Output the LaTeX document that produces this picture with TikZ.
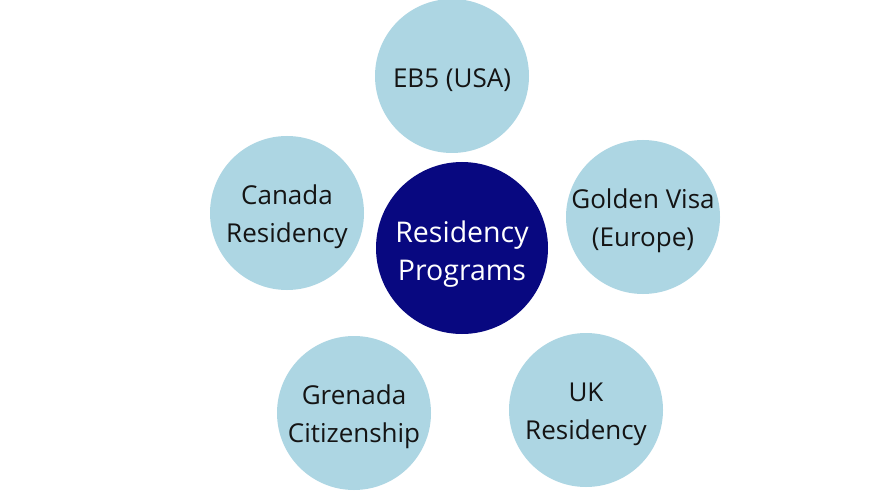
\documentclass[tikz,border=0pt]{standalone}
\usepackage{fontspec}
\setmainfont{Open Sans}
\begin{document}
\begin{tikzpicture}[x=1pt, y=-1pt]
    \definecolor{mybubble}{RGB}{173,214,227}
    \definecolor{myhub}{RGB}{8,8,128}
    \definecolor{mytext}{RGB}{20,20,20}
    \tikzset{
        bubble/.style={circle, fill=mybubble, minimum size=154pt, inner sep=0pt},
        hub/.style={bubble, fill=myhub, minimum size=172pt},
        caption/.style={align=center, inner sep=0pt, text=mytext, yshift=-4pt,
            font=\fontsize{26}{38}\selectfont},
        hubcaption/.style={caption, text=white, yshift=-2pt,
            font=\fontsize{28.5}{38}\selectfont}
    }
    
    \useasboundingbox (0,0) rectangle (889,500);
    \fill[white] (0,0) rectangle (889,500);
    
    \node[hub] (hub) at (462,248) {};
    \node[hubcaption] (hubtext) at (hub.center) {Residency\\Programs};
    
    \node[bubble] (eb5) at (452,76) {};
    \node[caption] (eb5text) at (eb5.center) {EB5 (USA)};
    \node[bubble] (golden) at (643,217) {};
    \node[caption] (goldentext) at (golden.center) {Golden Visa\\(Europe)};
    \node[bubble] (uk) at (586,410) {};
    \node[caption] (uktext) at (uk.center) {UK\\Residency};
    \node[bubble] (grenada) at (354,413) {};
    \node[caption] (grenadatext) at (grenada.center) {Grenada\\Citizenship};
    \node[bubble] (canada) at (287,213) {};
    \node[caption] (canadatext) at (canada.center) {Canada\\Residency};
\end{tikzpicture}
\end{document}
